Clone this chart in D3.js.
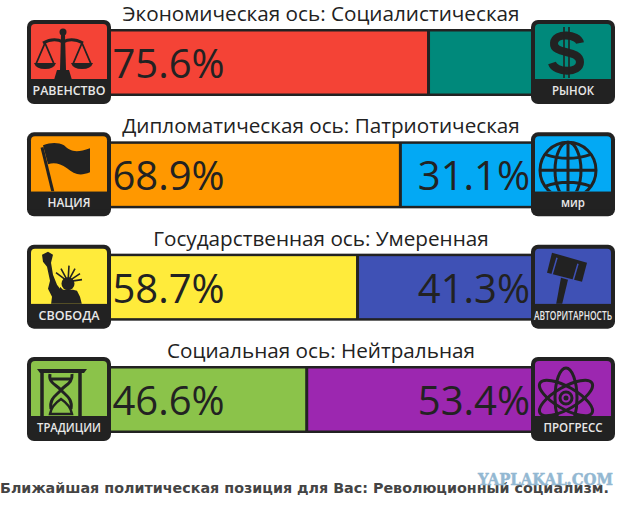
<!DOCTYPE html>
<html lang="ru">
<head>
<meta charset="utf-8">
<script src="https://cdn.jsdelivr.net/npm/d3@7/dist/d3.min.js"></script>
<style>
html,body{margin:0;padding:0;background:#fff}
svg{display:block}
text{font-family:"Open Sans","Noto Sans",sans-serif}
</style>
</head>
<body>
<div id="chart"></div>
<script>
const axes = ["Экономическая ось: Социалистическая","Дипломатическая ось: Патриотическая","Государственная ось: Умеренная","Социальная ось: Нейтральная"];
const leftValues = [75.6,68.9,58.7,46.6];
const rightValues = [24.4,31.1,41.3,53.4];
const leftLabels = ["РАВЕНСТВО","НАЦИЯ","СВОБОДА","ТРАДИЦИИ"];
const rightLabels = ["РЫНОК","мир","АВТОРИТАРНОСТЬ","ПРОГРЕСС"];
const leftColors = ["#f44336","#ff9800","#ffeb3b","#8bc34a"];
const rightColors = ["#00897b","#03a9f4","#3f51b5","#9c27b0"];
const leftIcons = ["scales","flag","liberty","hourglass"];
const rightIcons = ["dollar","globe","gavel","atom"];
const footer = "Ближайшая политическая позиция для Вас: Революционный социализм.";
const watermark = "YAPLAKAL.COM";

const W=640,H=508,DARK="#222",ICON=84;
const labelWidths={"РАВЕНСТВО":73,"НАЦИЯ":43,"РЫНОК":42,"мир":24,"СВОБОДА":61,"АВТОРИТАРНОСТЬ":78,"ТРАДИЦИИ":64,"ПРОГРЕСС":59};

const x=d3.scaleLinear().domain([0,100]).range([111,531]);
const y=d3.scalePoint().domain(d3.range(axes.length)).range([20,357]);
const svg=d3.select("#chart").append("svg").attr("width",W).attr("height",H).attr("viewBox",`0 0 ${W} ${H}`);
const defs=svg.append("defs");
defs.append("clipPath").attr("id","iconClip").append("rect").attr("x",4).attr("y",4).attr("width",76).attr("height",55);

const line=d3.line();
const poly=(g,pts)=>g.append("path").attr("d",line(pts)+"Z").attr("fill",DARK);
const strokeP=(g,d,w)=>g.append("path").attr("d",d).attr("fill","none").attr("stroke",DARK).attr("stroke-width",w);

const drawers={
  scales(g){
    g.append("circle").attr("cx",36).attr("cy",12).attr("r",3.5).attr("fill",DARK);
    strokeP(g,"M16 23Q27 17 36 22Q45 17 56 23",3);
    poly(g,[[34,14],[38,14],[39,50],[33,50]]);
    poly(g,[[30,50],[42,50],[45,60],[27,60]]);
    strokeP(g,"M18 23L9 44M18 23L27 44M55 23L46 44M55 23L64 44",1.8);
    g.append("path").attr("d","M7 43H29Q27 49 18 49Q9 49 7 43Z").attr("fill",DARK);
    g.append("path").attr("d","M44 43H66Q64 49 55 49Q46 49 44 43Z").attr("fill",DARK);
  },
  flag(g){
    strokeP(g,"M15 15L26 60",3);
    g.append("path").attr("d","M16 13C24 10 31 10 37 13C43 19 49 21 63 16L63 40C53 44 47 42 40 36C33 31 27 30 21 32Z").attr("fill",DARK);
  },
  liberty(g){
    poly(g,[[15,10],[21,7],[26,10],[24,18],[26,30],[30,40],[33,44],[33,42],[36,45],[46,45],[50,46],[53,52],[55,60],[24,60],[25,52],[21,44],[23,36],[20,22],[16,17]]);
    g.append("circle").attr("cx",41).attr("cy",39).attr("r",6.5).attr("fill",DARK);
    strokeP(g,"M41 37L42 21M41 37L53 29M41 37L29 28M41 37L34 24M41 37L48 24M41 37L55 35",1.6);
  },
  hourglass(g){
    poly(g,[[10,12],[60,12],[57,16],[13,16]]);
    strokeP(g,"M15 15V60M53 15V60",3.5);
    strokeP(g,"M23 17C21 26 30 28 34 33C38 38 46 41 44 52M45 17C46 26 38 28 34 33C30 38 22 41 24 52M24 22H44",3);
    g.append("path").attr("d","M34 42C28 46 24 51 23 57H45C44 51 40 46 34 42Z").attr("fill","none").attr("stroke",DARK).attr("stroke-width",2.5);
  },
  dollar(g){
    strokeP(g,"M49 23C47 14 24 12 23 23C22 35 49 29 49 42C49 54 24 53 21 43",8);
    strokeP(g,"M33 7V58M38 7V58",1.6);
  },
  globe(g){
    const c=g.append("g").attr("fill","none").attr("stroke",DARK).attr("stroke-width",3);
    c.append("circle").attr("cx",37).attr("cy",38).attr("r",28);
    c.append("ellipse").attr("cx",37).attr("cy",38).attr("rx",13).attr("ry",28);
    c.append("path").attr("d","M37 10V66M9 38H65M14 22Q37 30 60 22M14 54Q37 46 60 54");
  },
  gavel(g){
    poly(g,[[21,8],[56,18],[51,37],[16,28]]);
    strokeP(g,"M26 13L21 30M47 19L42 36",1.5).attr("stroke","#3f51b5");
    poly(g,[[30,33],[37,35],[31,60],[25,60]]);
  },
  atom(g){
    const c=g.append("g").attr("fill","none").attr("stroke",DARK).attr("stroke-width",3);
    [90,30,-30].forEach(a=>c.append("ellipse").attr("cx",35).attr("cy",41).attr("rx",30).attr("ry",11)
      .attr("transform",`rotate(${a} 35 41)`));
    g.append("circle").attr("cx",35).attr("cy",41).attr("r",6).attr("fill","none").attr("stroke",DARK).attr("stroke-width",3);
    g.append("circle").attr("cx",35).attr("cy",41).attr("r",2.5).attr("fill",DARK);
  }
};

function drawIcon(px,py,color,label,kind){
  const g=svg.append("g").attr("transform",`translate(${px},${py})`);
  g.append("rect").attr("width",ICON).attr("height",ICON).attr("rx",7).attr("fill",DARK);
  g.append("rect").attr("x",4).attr("y",4).attr("width",76).attr("height",60).attr("rx",4).attr("fill",color);
  g.append("rect").attr("x",0).attr("y",59).attr("width",ICON).attr("height",18).attr("fill",DARK);
  g.append("rect").attr("x",4).attr("y",56).attr("width",76).attr("height",3).attr("fill",color);
  const art=g.append("g").attr("clip-path","url(#iconClip)");
  drawers[kind](art);
  const t=g.append("text").attr("text-anchor","middle")
    .attr("fill","#e8e8e8").attr("font-size",13).attr("font-weight",600).text(label);
  const sx=labelWidths[label]/t.node().getComputedTextLength();
  t.attr("transform",`translate(${ICON/2},75) scale(${sx},1)`);
}

axes.forEach((name,i)=>{
  const top=y(i),split=x(leftValues[i]);
  svg.append("rect").attr("x",x(0)).attr("y",top+9).attr("width",x(100)-x(0)).attr("height",67).attr("fill",DARK);
  svg.append("rect").attr("x",x(0)).attr("y",top+11.5).attr("width",split-x(0)).attr("height",62).attr("fill",leftColors[i]);
  svg.append("rect").attr("x",split).attr("y",top+11.5).attr("width",x(100)-split).attr("height",62).attr("fill",rightColors[i]);
  svg.append("rect").attr("x",split-1.5).attr("y",top+10).attr("width",3).attr("height",65).attr("fill",DARK);
  svg.append("text").attr("x",321).attr("y",top+1).attr("text-anchor","middle").attr("fill",DARK).attr("font-size",20.7).text(name);
  svg.append("text").attr("x",x(0)+1.5).attr("y",top+58).attr("fill",DARK).attr("font-size",40).text(leftValues[i].toFixed(1)+"%");
  if(rightValues[i]>30){
    svg.append("text").attr("x",x(100)-1).attr("y",top+58).attr("text-anchor","end").attr("fill",DARK).attr("font-size",40).text(rightValues[i].toFixed(1)+"%");
  }
  drawIcon(27,top,leftColors[i],leftLabels[i],leftIcons[i]);
  drawIcon(531,top,rightColors[i],rightLabels[i],rightIcons[i]);
});

svg.append("text").attr("x",0).attr("y",493).attr("fill","#444").attr("font-size",14.3).attr("font-weight",700)
  .style("font-family","'DejaVu Sans',sans-serif").text(footer);
svg.append("text").attr("x",613).attr("y",485).attr("text-anchor","end").attr("fill","#93b8d2").attr("stroke","#93b8d2").attr("stroke-width",0.5).attr("font-size",16.5).attr("font-weight",700)
  .attr("textLength",135).attr("lengthAdjust","spacingAndGlyphs")
  .style("font-family","'DejaVu Serif',serif").text(watermark);
</script>
</body>
</html>
